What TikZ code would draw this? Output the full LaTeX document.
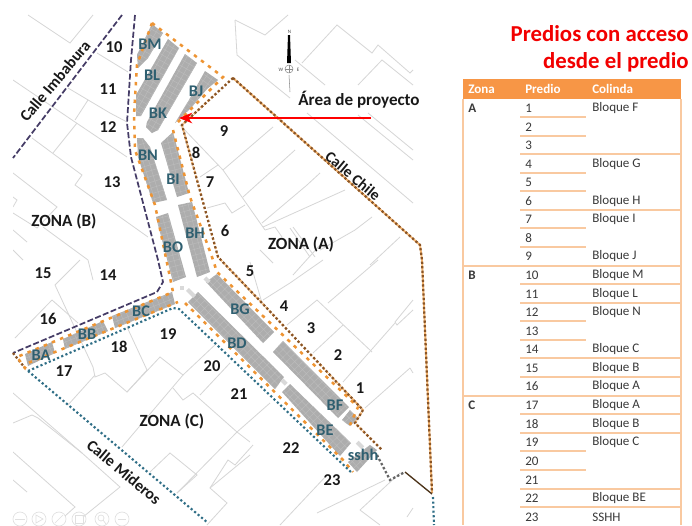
\documentclass[tikz,border=0pt]{standalone}
\usepackage{fontspec}
\setmainfont{Carlito}
\usetikzlibrary{arrows.meta}
\definecolor{maplinec}{HTML}{D6D6D6}
\definecolor{blockc}{HTML}{ADADAD}
\definecolor{blocklinec}{HTML}{BBBBBB}
\definecolor{orangec}{HTML}{EE9433}
\definecolor{brownc}{HTML}{8A5526}
\definecolor{purplec}{HTML}{453C66}
\definecolor{tealc}{HTML}{2F6E86}
\definecolor{bluetext}{HTML}{2F5F70}
\definecolor{headc}{HTML}{F79646}
\definecolor{rulec}{HTML}{F9C9A0}
\definecolor{celltext}{HTML}{3A3A3A}
\tikzset{
  mapline/.style={draw=maplinec,line width=0.6pt},
  orangeline/.style={draw=orangec,line width=1.9pt,dash pattern=on 2.6pt off 4pt},
  orangeglow/.style={draw=orangec!70,line width=1.4pt},
  brownline/.style={draw=brownc,line width=1.7pt,dash pattern=on 1.7pt off 1.7pt},
  purpleline/.style={draw=purplec,line width=1.3pt,dash pattern=on 4.5pt off 1.8pt},
  tealline/.style={draw=tealc,line width=1.6pt,dash pattern=on 1.6pt off 1.8pt},
  numlabel/.style={font=\fontsize{12.4}{12}\bfseries,text=black!90,inner sep=0pt},
  zonelabel/.style={font=\fontsize{12.8}{12}\bfseries,text=black!90,inner sep=0pt},
  blocklabel/.style={font=\fontsize{12.2}{12}\bfseries,text=bluetext,inner sep=0pt},
  streetlabel/.style={font=\fontsize{12}{12}\bfseries,text=black!90,inner sep=0pt},
  headcell/.style={font=\fontsize{9.8}{10}\bfseries,text=white,anchor=west,inner sep=0pt},
  cell/.style={font=\fontsize{9.8}{10}\selectfont,text=celltext,anchor=west,inner sep=0pt},
  zonecell/.style={font=\fontsize{9.8}{10}\bfseries,text=celltext,anchor=west,inner sep=0pt},
  fullrule/.style={draw=rulec,line width=0.8pt},
  shortrule/.style={draw=rulec,line width=0.8pt},
  ctrlicon/.style={draw=black!12,line width=0.5pt},
}
\newcommand{\blockshape}[2]{%
  \begin{scope}
    \clip #1;
    \fill[blockc] (0,0) rectangle (692,525);
    \draw[blocklinec,line width=0.35pt,rotate=#2,step=4.2pt] (-900,-900) grid (900,900);
  \end{scope}}
\begin{document}
\begin{tikzpicture}[x=0.75pt,y=-0.75pt]
\useasboundingbox (0,0) rectangle (692,525);
\fill[white] (0,0) rectangle (692,525);
% parcel lines of the base map
\begin{scope}
\clip (13,14) rectangle (432,525);
\foreach \p in {
 {(28,15)--(70,43)--(93,15)},
 {(97,53)--(128,72)},
 {(13,80)--(75,122)--(127,157)},
 {(68,88)--(110,113)--(127,122)},
 {(88,100)--(75,120)},
 {(77,123)--(53,153)},
 {(32,138)--(82,175)--(75,185)--(148,237)},
 {(13,173)--(57,207)--(37,228)--(13,213)},
 {(13,197)--(17,200)--(13,207)},
 {(43,227)--(88,260)--(93,280)},
 {(13,230)--(27,242)},
 {(13,250)--(23,260)},
 {(80,260)--(55,285)--(93,367)--(95,377)--(105,373)--(127,392)--(160,357)--(183,375)--(217,343)},
 {(52,300)--(15,338)},
 {(52,300)--(78,323)},
 {(127,327)--(147,370)--(127,392)},
 {(95,375)--(68,405)},
 {(173,388)--(183,400)--(193,393)--(237,432)--(250,442)},
 {(200,395)--(230,363)},
 {(183,375)--(122,447)},
 {(237,432)--(177,493)},
 {(150,472)--(170,453)--(197,475)--(177,493)},
 {(210,488)--(250,455)},
 {(210,488)--(227,503)--(207,525)},
 {(13,393)--(82,453)--(120,487)--(83,517)},
 {(13,423)--(32,415)--(38,418)--(82,453)},
 {(13,452)--(75,507)--(65,516)},
 {(13,480)--(27,492)},
 {(317,300)--(372,352)},
 {(378,260)--(328,303)},
 {(317,300)--(287,325)},
 {(343,325)--(313,353)},
 {(413,300)--(395,322)--(397,325)--(413,310)},
 {(395,323)--(343,382)},
 {(410,368)--(365,408)},
 {(410,368)--(413,373)},
 {(385,480)--(317,513)},
 {(360,510)--(400,473)},
 {(360,510)--(380,525)},
 {(407,517)--(413,508)},
 {(327,475)--(280,525)},
 {(253,445)--(235,465)--(228,460)--(210,488)},
 {(237,432)--(270,403)},
 {(263,300)--(290,283)--(323,260)},
 {(293,275)--(320,245)},
 {(235,20)--(237,55)--(290,98)},
 {(235,20)--(265,35)--(288,15)},
 {(302,63)--(337,25)--(372,53)--(378,45)--(410,73)--(413,70)},
 {(295,60)--(325,85)},
 {(358,85)--(382,60)--(413,85)},
 {(307,113)--(413,203)},
 {(368,113)--(413,150)},
 {(358,115)--(413,160)},
 {(273,127)--(223,170)},
 {(180,125)--(223,170)--(265,230)},
 {(295,150)--(243,197)},
 {(320,173)--(307,185)--(262,223)},
 {(345,190)--(263,227)},
 {(372,217)--(355,230)--(320,250)},
 {(400,237)--(370,265)},
 {(218,165)--(200,177)},
 {(207,208)--(225,203)--(232,213)--(245,205)},
 {(265,230)--(275,227)--(282,237)},
 {(290,228)--(310,257)},
 {(293,227)--(315,257)},
 {(260,250)--(273,263)},
 {(250,262)--(262,303)}
}{\draw[mapline] \p;}
\end{scope}
% blocks
\blockshape{(152,24)--(163,33)--(148,58)--(138,68)--(137,55)--cycle}{60}
\blockshape{(168,39)--(179,48)--(141,116)--(136,116)--(136,95)--cycle}{60}
\blockshape{(185,54)--(197,63)--(158,130)--(152,133)--(146,127)--(147,122)--cycle}{60}
\blockshape{(205,71)--(218,80)--(207,89)--(191,108)--(175,123)--(189,100)--cycle}{55}
\blockshape{(137,138)--(143,138)--(150,147)--(167,200)--(153,203)--(138,157)--cycle}{-73}
\blockshape{(161,143)--(173,132)--(189,193)--(177,197)--cycle}{-76}
\blockshape{(156,217)--(168,213)--(186,277)--(173,282)--cycle}{-75}
\blockshape{(178,205)--(192,202)--(210,272)--(197,277)--cycle}{-75}
\blockshape{(206,282)--(217,274)--(274,332)--(263,343)--cycle}{-46}
\blockshape{(273,352)--(283,341)--(349,407)--(338,418)--cycle}{-46}
\blockshape{(342,420)--(350,410)--(358,418)--(350,426)--cycle}{-46}
\blockshape{(188,302)--(198,292)--(284,377)--(275,389)--cycle}{-46}
\blockshape{(282,392)--(290,384)--(351,443)--(340,456)--cycle}{-46}
\blockshape{(348,462)--(370,445)--(377,450)--(357,472)--cycle}{-46}
\blockshape{(25,354)--(52,342)--(55,353)--(28,366)--cycle}{22}
\blockshape{(63,339)--(103,321)--(108,331)--(65,349)--cycle}{22}
\blockshape{(112,316)--(172,292)--(175,304)--(115,328)--cycle}{22}
\fill[black!15] (180,286) rectangle (184,290);
\fill[black!15,rotate around={-45:(191,293)}] (186,291) rectangle (196,295);
\fill[black!15,rotate around={-45:(207,280)}] (204,278) rectangle (210,282);
\fill[black!15,rotate around={-45:(284,382)}] (281,380) rectangle (287,384);
\fill[black!15,rotate around={-45:(360,445)}] (356,443) rectangle (364,447);
% zone limits
\draw[purpleline] (122,15)--(13,158);
\draw[purpleline] (135,15)--(131,60)--(127,123)--(131,157)--(158,260)--(163,282)--(157,292)--(13,353);
\draw[brownline] (13,353)--(25,368);
\draw[orangeline] (152,23)--(223,77)--(178,122);
\draw[orangeline] (152,23)--(137,65)--(134,115)--(135,150)--(155,205)--(173,292)--(17,357)--(25,368)--(28,363)--(178,302);
\draw[orangeline] (173,130)--(190,197)--(212,257)--(217,272)--(358,407)--(350,425);
\draw[orangeline] (185,303)--(343,460)--(353,472);
\draw[orangeglow] (233,78)--(420,245)--(422,260)--(432,493);
\draw[orangeglow,dash pattern=on 1.5pt off 2pt] (233,78)--(182,125)--(218,257)--(262,303)--(363,410)--(355,423)--(382,450);
\draw[brownline] (233,78)--(182,125)--(218,257)--(262,303)--(363,410)--(355,423)--(382,450);
\draw[brownline] (233,78)--(420,245)--(422,260)--(432,493);
\draw[tealline] (28,371)--(173,308)--(179,309)--(352,473);
\draw[tealline] (28,371)--(208,523);
\draw[tealline] (433,497)--(434,525);
\draw[draw=black!60,line width=1.7pt,dash pattern=on 1.8pt off 1.6pt] (377,455)--(390,480)--(405,472);
\draw[draw=black!60!brown,line width=1pt] (405,472)--(432,494);
% compass
\fill[black] (288,35)--(290,35)--(291,63)--(287,63)--cycle;
\draw[black!45,line width=0.4pt] (289,75)--(290,92);
\draw[black!45,line width=0.4pt] (289,69) circle[radius=4];
\draw[black!45,line width=0.4pt] (285,69)--(293,69) (289,65)--(289,73);
\node[inner sep=0pt,font=\fontsize{3.8}{4}\selectfont,text=black!70] (compn) at (289.5,32) {N};
\node[inner sep=0pt,font=\fontsize{3.8}{4}\selectfont,text=black!70] (compw) at (281,69.5) {W};
\node[inner sep=0pt,font=\fontsize{3.8}{4}\selectfont,text=black!70] (compe) at (298,69.5) {E};
% project arrow
\coordinate (arrowstart) at (371,118);
\coordinate (arrowtip) at (179,118);
\draw[red,line width=1.2pt,-{Stealth[length=10pt,width=8pt]}] (arrowstart)--(arrowtip);
% map texts
\foreach \t/\x/\y in {10/114/47,11/108/89,12/108/127,13/112/182,15/43/273,14/108/275,16/48/319,17/64/371,18/119/347,19/168/334,20/212/366,21/239/394,22/291/448,23/332/480,1/360/388,2/338/355,3/311/328,4/284/306,5/250/271,6/225/231,7/210/182,8/196/153,9/224/131}
  {\node[numlabel] (num\t) at (\x,\y) {\t};}
\foreach \t/\x/\y in {BM/150/44,BL/152/75,BK/158/113,BJ/196/91,BN/148/155,BI/173/179,BO/173/247,BH/195/233,BG/240/309,BD/237/343,BF/335/405,BE/325/430,BC/141/311,BB/87/334,BA/41/355}
  {\node[blocklabel] (lab\t) at (\x,\y) {\t};}
\node[blocklabel] (labsshh) at (363,455) {sshh};
\node[zonelabel] (zoneb) at (64,221) {ZONA (B)};
\node[zonelabel] (zonea) at (301,244) {ZONA (A)};
\node[zonelabel] (zonec) at (172,421) {ZONA (C)};
\node[streetlabel,rotate=50] (imbabura) at (55,81) {Calle Imbabura};
\node[streetlabel,rotate=-40,font=\fontsize{11.6}{12}\bfseries] (chile) at (353,176) {Calle Chile};
\node[streetlabel,rotate=-40] (mideros) at (124,472) {Calle Mideros};
\node[font=\fontsize{12.8}{12}\bfseries,text=black!90,inner sep=0pt] (area) at (359,100) {Área de proyecto};
% presentation controls
\foreach \x/\n in {20/a,39/b,59/c,79/d,102/e,122/f}
  {\draw[ctrlicon] (\x,519) circle[radius=7];}
\draw[ctrlicon] (36,515)--(43,519)--(36,523)--cycle;
\draw[ctrlicon] (55,523)--(63,515);
\draw[ctrlicon] (75,515) rectangle (83,523);
\draw[ctrlicon] (101,518) circle[radius=3] (103,520)--(106,524);
\draw[ctrlicon] (118,519)--(126,519);
\draw[ctrlicon] (15,519)--(25,519);
% title
\node[font=\fontsize{17.1}{15}\bfseries,text=red!95!black,anchor=east,inner sep=0pt] (title1) at (689,34) {Predios con acceso};
\node[font=\fontsize{17.1}{15}\bfseries,text=red!95!black,anchor=east,inner sep=0pt] (title2) at (689,62) {desde el predio};
% table
\fill[headc] (463,79) rectangle (681,99);
\draw[fullrule] (463,99)--(463,525);
\draw[fullrule] (681,99)--(681,525);
\foreach \y in {117,136,173,191,228,247,321,340,451,470}
  {\draw[shortrule] (520,\y)--(586,\y);}
\foreach \y in {154,210,284,303,358,377,414,433,489,507}
  {\draw[fullrule] (520,\y)--(681,\y);}
\foreach \y in {266,396}
  {\draw[fullrule] (463,\y)--(681,\y);}
\node[headcell] (hz) at (468,89) {Zona};
\node[headcell] (hp) at (525,89) {Predio};
\node[headcell] (hc) at (592,89) {Colinda};
\node[zonecell] (za) at (468,108.5) {A};
\node[zonecell] (zb) at (468,275.5) {B};
\node[zonecell] (zc) at (468,405.5) {C};
\foreach \n/\y in {1/108.5,2/127,3/145.5,4/164.5,5/182.5,6/201.5,7/219.5,8/238,9/256.5,10/275.5,11/294,12/312,13/331,14/349.5,15/368,16/386.5,17/405.5,18/424,19/442.5,20/461,21/480,22/498.5,23/517}
  {\node[cell] (pr\n) at (525,\y) {\n};}
\foreach \n/\t/\y in {a/Bloque F/108.5,b/Bloque G/164.5,c/Bloque H/201.5,d/Bloque I/219.5,e/Bloque J/256.5,f/Bloque M/275.5,g/Bloque L/294,h/Bloque N/312,i/Bloque C/349.5,j/Bloque B/368,k/Bloque A/386.5,l/Bloque A/405.5,m/Bloque B/424,n/Bloque C/442.5,o/Bloque BE/498.5,p/SSHH/517}
  {\node[cell] (col\n) at (592,\y) {\t};}
\end{tikzpicture}
\end{document}
